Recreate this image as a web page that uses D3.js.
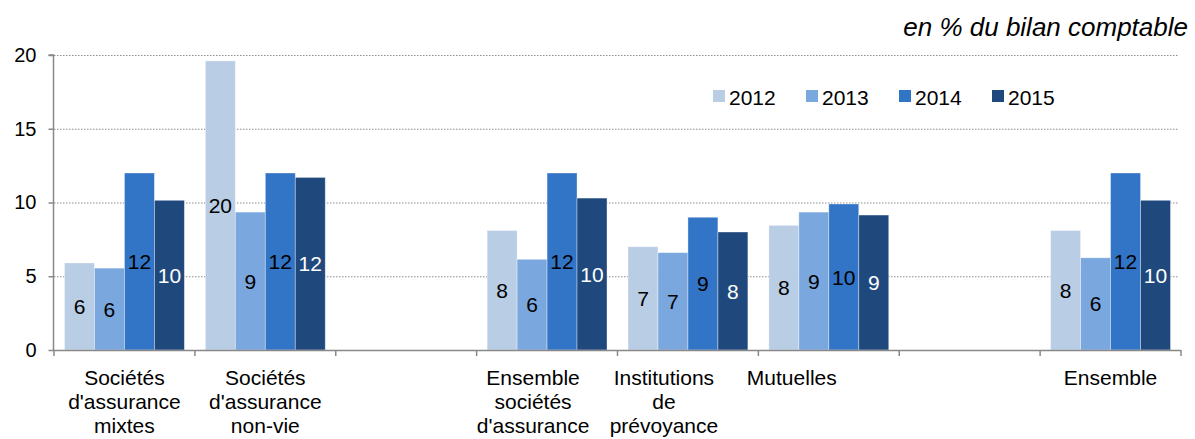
<!DOCTYPE html>
<html>
<head>
<meta charset="utf-8">
<script src="https://cdn.jsdelivr.net/npm/d3@7"></script>
<style>
  html, body { margin: 0; padding: 0; background: #fff; }
  svg { display: block; font-family: "Liberation Sans", Arial, sans-serif; }
</style>
</head>
<body>
<svg id="chart" width="1195" height="439"></svg>
<script>
// Categories (empty strings are spacer slots between groups)
const categories = [
  "Sociétés\nd'assurance\nmixtes",
  "Sociétés\nd'assurance\nnon-vie",
  "",
  "Ensemble\nsociétés\nd'assurance",
  "Institutions\nde\nprévoyance",
  "Mutuelles",
  "",
  "Ensemble"
];
const years = ["2012", "2013", "2014", "2015"];
const v2012 = [5.9, 19.6, null, 8.1, 7.0, 8.45, null, 8.1];
const v2013 = [5.55, 9.35, null, 6.15, 6.6, 9.35, null, 6.25];
const v2014 = [12.0, 12.0, null, 12.0, 9.0, 9.9, null, 12.0];
const v2015 = [10.15, 11.7, null, 10.3, 8.0, 9.15, null, 10.15];
const yTicks = [0, 5, 10, 15, 20];
const unitLabel = "en % du bilan comptable";

// Styling / layout
const colors = ["#B9CDE5", "#7AA7DE", "#3274C6", "#1F497D"];
const labelColors = ["#000", "#000", "#000", "#fff"];
const labelNudge = [0, 0, 0, -14, -24, -37, 0, 0];
const margin = { left: 54, right: 14, top: 55, bottom: 89 };
const W = 1195, H = 439;

const series = [v2012, v2013, v2014, v2015];
const svg = d3.select("#chart");

const x = d3.scaleBand()
  .domain(d3.range(categories.length))
  .range([margin.left, W - margin.right])
  .padding(0);

const inner = d3.scaleBand()
  .domain(years)
  .range([10.5, x.bandwidth() - 10.5])
  .padding(0);

const y = d3.scaleLinear()
  .domain([0, 20])
  .range([H - margin.bottom, margin.top]);

// Dotted gridlines
svg.append("g")
  .selectAll("line")
  .data(yTicks.filter(d => d > 0))
  .join("line")
  .attr("x1", margin.left)
  .attr("x2", W - margin.right - 3)
  .attr("y1", d => y(d) + 0.5)
  .attr("y2", d => y(d) + 0.5)
  .attr("stroke", "#8c8c8c")
  .attr("stroke-width", 1)
  .attr("stroke-dasharray", "1.5,1.5");

// Bars
const barData = [];
categories.forEach((c, i) => {
  years.forEach((yr, j) => {
    const v = series[j][i];
    if (v != null) barData.push({ i, j, yr, v });
  });
});

svg.append("g")
  .selectAll("rect")
  .data(barData)
  .join("rect")
  .attr("x", d => x(d.i) + inner(d.yr))
  .attr("width", inner.bandwidth())
  .attr("y", d => y(d.v))
  .attr("height", d => y(0) - y(d.v))
  .attr("fill", d => colors[d.j])
  .attr("stroke", "#ffffff")
  .attr("stroke-opacity", 0.45)
  .attr("stroke-width", 0.8);

// Value labels centred in each bar
const fmt = d3.format(".0f");
svg.append("g")
  .selectAll("text")
  .data(barData)
  .join("text")
  .attr("x", d => x(d.i) + inner(d.yr) + inner.bandwidth() / 2)
  .attr("y", d => (y(d.v) + y(0)) / 2)
  .attr("dy", "0.36em")
  .attr("text-anchor", "middle")
  .attr("font-size", 21)
  .attr("fill", d => labelColors[d.j])
  .text(d => fmt(d.v));

// Y axis
const yAxis = d3.axisLeft(y).tickValues(yTicks).tickSize(5).tickPadding(12).tickFormat(d3.format("d"));
const gy = svg.append("g")
  .attr("transform", `translate(${margin.left - 0.5},0)`)
  .call(yAxis);
gy.select(".domain").attr("stroke", "#888").attr("stroke-width", 1.5).attr("d", `M-5,${y(20)}H0V${y(0)}`);
gy.selectAll(".tick line").attr("stroke", "#888").attr("stroke-width", 1.5);
gy.selectAll(".tick text")
  .attr("font-size", 20)
  .attr("fill", "#000")
  .attr("font-family", "Liberation Sans, Arial, sans-serif");

// X axis with boundary ticks between categories
const gx = svg.append("g");
gx.append("line")
  .attr("x1", margin.left - 1)
  .attr("x2", W - margin.right)
  .attr("y1", y(0) + 0.5)
  .attr("y2", y(0) + 0.5)
  .attr("stroke", "#888")
  .attr("stroke-width", 1.5);
gx.selectAll("line.tk")
  .data(d3.range(categories.length + 1))
  .join("line")
  .attr("class", "tk")
  .attr("x1", d => (d < categories.length ? x(d) : x(d - 1) + x.bandwidth()))
  .attr("x2", d => (d < categories.length ? x(d) : x(d - 1) + x.bandwidth()))
  .attr("y1", y(0))
  .attr("y2", y(0) + 6)
  .attr("stroke", "#888")
  .attr("stroke-width", 1.5);

// Category labels (multi-line)
const cat = svg.append("g")
  .selectAll("text")
  .data(categories.map((c, i) => ({ c, i })).filter(d => d.c))
  .join("text")
  .attr("text-anchor", "middle")
  .attr("font-size", 21)
  .attr("fill", "#000");
cat.each(function (d) {
  const cx = x(d.i) + x.bandwidth() / 2 + labelNudge[d.i];
  d3.select(this).selectAll("tspan")
    .data(d.c.split("\n"))
    .join("tspan")
    .attr("x", cx)
    .attr("y", (l, k) => 385 + k * 24)
    .text(l => l);
});

// Legend
const legend = svg.append("g")
  .selectAll("g")
  .data(years)
  .join("g")
  .attr("transform", (d, k) => `translate(${713 + k * 93},90)`);
legend.append("rect")
  .attr("width", 12).attr("height", 12)
  .attr("fill", (d, k) => colors[k]);
legend.append("text")
  .attr("x", 16).attr("y", 15)
  .attr("font-size", 21)
  .attr("fill", "#000")
  .text(d => d);

// Unit note
svg.append("text")
  .attr("x", 1188)
  .attr("y", 36)
  .attr("text-anchor", "end")
  .attr("font-size", 26)
  .attr("font-style", "italic")
  .attr("fill", "#000")
  .text(unitLabel);
</script>
</body>
</html>
